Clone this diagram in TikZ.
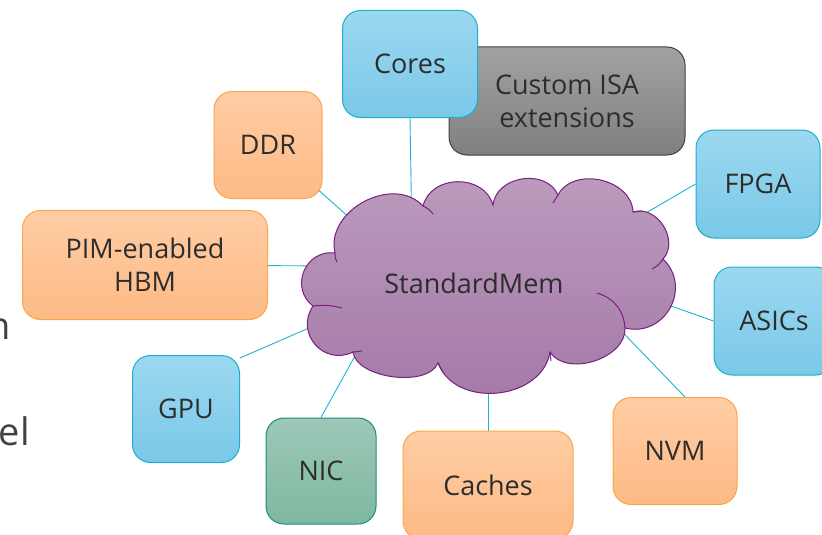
\documentclass[tikz,border=0pt]{standalone}
\usepackage{fontspec}
\setmainfont{Open Sans}
\usetikzlibrary{positioning, backgrounds}
\definecolor{bluetop}{RGB}{156, 216, 240}
\definecolor{bluebot}{RGB}{122, 200, 232}
\definecolor{blueline}{RGB}{26, 175, 208}
\definecolor{orangetop}{RGB}{255, 205, 165}
\definecolor{orangebot}{RGB}{253, 186, 133}
\definecolor{orangeline}{RGB}{249, 166, 74}
\definecolor{graytop}{RGB}{162, 162, 162}
\definecolor{graybot}{RGB}{128, 128, 128}
\definecolor{grayline}{RGB}{64, 64, 64}
\definecolor{greentop}{RGB}{158, 200, 184}
\definecolor{greenbot}{RGB}{126, 184, 160}
\definecolor{greenline}{RGB}{30, 140, 120}
\definecolor{cloudtop}{RGB}{188, 156, 190}
\definecolor{cloudbot}{RGB}{164, 120, 166}
\definecolor{cloudline}{RGB}{122, 30, 128}
\definecolor{linkcyan}{RGB}{30, 178, 214}
\definecolor{textgray}{RGB}{45, 45, 45}

\begin{document}
\begin{tikzpicture}[
    x=1pt, y=-1pt,
    box/.style={rectangle, rounded corners=18pt, line width=1pt,
                align=center, text=textgray, inner sep=2pt,
                font=\fontsize{27}{33}\selectfont},
    bluebox/.style={box, draw=blueline, top color=bluetop, bottom color=bluebot},
    orangebox/.style={box, draw=orangeline, top color=orangetop, bottom color=orangebot},
    graybox/.style={box, draw=grayline, top color=graytop, bottom color=graybot},
    greenbox/.style={box, draw=greenline, top color=greentop, bottom color=greenbot},
    cloudshape/.style={draw=cloudline, line width=1pt, top color=cloudtop, bottom color=cloudbot},
    puff/.style={bend left=75, looseness=#1},
    hook/.style={draw=cloudline, line width=1pt},
    cloudtext/.style={text=textgray, font=\fontsize{27}{33}\selectfont},
    link/.style={draw=linkcyan, line width=0.9pt},
    cutoff/.style={anchor=base east, inner sep=0pt, text=textgray!90,
                   font=\fontsize{38}{44}\selectfont}
]
\useasboundingbox (0,0) rectangle (822,535);

% Cut-off slide text at the left
\node[cutoff] (fragn) at (11,339) {n};
\node[cutoff] (fragel) at (30,445) {el};

% Memory standard in the middle
\path[cloudshape] (313,306) to[puff=1.34] (335,253) to[puff=1.12] (423,206)
    to[puff=1.2] (493,205) to[puff=1.15] (558,195) to[puff=1.1] (633,212)
    to[puff=1.15] (663,259) to[puff=1.34] (625,328) to[puff=0.99] (550,352)
    to[puff=1.12] (438,363) to[puff=0.8] (353,352) to[puff=1.37] cycle;
\draw[hook] (335,253) to[bend right=20] (337,262);
\draw[hook] (423,206) to[bend left=15] (433,214);
\draw[hook] (558,195) to (553,203);
\draw[hook] (633,212) to (642,211);
\draw[hook] (663,259) to[bend left=15] (652,269);
\draw[hook] (597,293) to[bend left=35] (625,328);
\draw[hook] (550,352) to (551,361);
\draw[hook] (438,363) to (443,372);
\draw[hook] (353,352) to (362,351);
\draw[hook] (313,306) to[bend left=10] (342,308);
\node[cloudtext] (stdmem) at (474,283) {StandardMem};

% Upper boxes
\node[graybox, minimum width=236pt, minimum height=108pt] (isa) at (567,101) {Custom ISA\\extensions};
\node[bluebox, minimum width=135pt, minimum height=107pt] (cores) at (410,64) {Cores};
\node[orangebox, minimum width=108pt, minimum height=107pt] (ddr) at (268,145) {DDR};
\node[bluebox, minimum width=124pt, minimum height=108pt] (fpga) at (758,184) {FPGA};

% Side boxes
\node[orangebox, minimum width=245pt, minimum height=109pt] (hbm) at (145,265) {PIM-enabled\\HBM};
\node[bluebox, minimum width=120pt, minimum height=108pt] (asics) at (774,321) {ASICs};

% Lower boxes
\node[bluebox, minimum width=107pt, minimum height=107pt] (gpu) at (186,409) {GPU};
\node[greenbox, minimum width=110pt, minimum height=106pt] (nic) at (321,471) {NIC};
\node[orangebox, minimum width=170pt, minimum height=108pt] (caches) at (488,485) {Caches};
\node[orangebox, minimum width=124pt, minimum height=107pt] (nvm) at (675,451) {NVM};

% Connection points inside the cloud
\coordinate (in-cores) at (412,240);
\coordinate (in-ddr) at (370,236);
\coordinate (in-hbm) at (340,266);
\coordinate (in-fpga) at (610,234);
\coordinate (in-asics) at (640,295);
\coordinate (in-nvm) at (605,314);
\coordinate (in-caches) at (488,360);
\coordinate (in-nic) at (366,336);
\coordinate (in-gpu) at (332,318);

% Connections
\begin{scope}[on background layer]
\draw[link] (cores.south) -- (in-cores);
\draw[link] (ddr.center) -- (in-ddr);
\draw[link] (hbm.center) -- (in-hbm);
\draw[link] (fpga.west) -- (in-fpga);
\draw[link] (asics.west) -- (in-asics);
\draw[link] ([xshift=10pt]nvm.north) -- (in-nvm);
\draw[link] (caches.north) -- (in-caches);
\draw[link] (nic.north) -- (in-nic);
\draw[link] ([yshift=-3pt]gpu.north east) -- (in-gpu);
\end{scope}

\end{tikzpicture}
\end{document}
